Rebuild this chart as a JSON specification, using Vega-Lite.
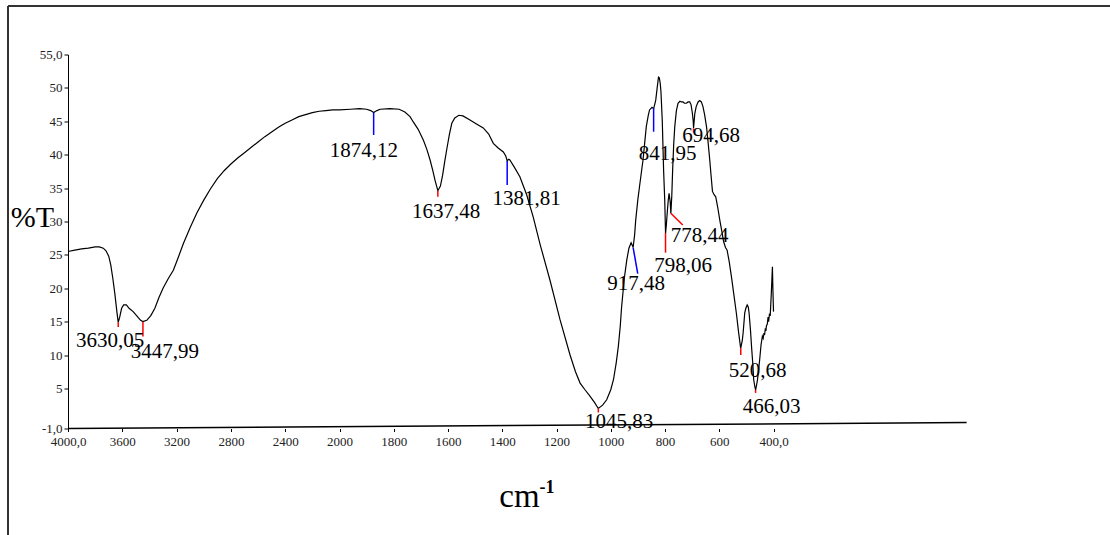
{
  "$schema": "https://vega.github.io/schema/vega-lite/v6.json",
  "width": 898,
  "height": 374,
  "autosize": {"type": "none"},
  "padding": {"left": 68, "top": 54.5, "right": 144, "bottom": 106.5},
  "background": "white",
  "config": {"view": {"stroke": null}, "font": "Liberation Serif"},
  "datasets": {
    "spectrum": [
      {"wn":4000,"t":25.5},{"wn":3950,"t":25.7},{"wn":3900,"t":25.9},{"wn":3850,"t":26.0},{"wn":3800,"t":26.2},{"wn":3770,"t":26.2},{"wn":3740,"t":26.0},{"wn":3720,"t":25.6},{"wn":3700,"t":24.8},{"wn":3685,"t":23.5},{"wn":3670,"t":21.5},{"wn":3655,"t":19.2},{"wn":3640,"t":16.5},{"wn":3630,"t":14.9},{"wn":3620,"t":15.6},{"wn":3605,"t":17.0},{"wn":3590,"t":17.5},{"wn":3570,"t":17.5},{"wn":3550,"t":17.0},{"wn":3520,"t":16.5},{"wn":3490,"t":15.8},{"wn":3465,"t":15.2},{"wn":3448,"t":15.0},{"wn":3420,"t":15.2},{"wn":3390,"t":15.9},{"wn":3360,"t":17.0},{"wn":3330,"t":18.6},{"wn":3300,"t":20.0},{"wn":3260,"t":21.5},{"wn":3224,"t":22.7},{"wn":3190,"t":24.5},{"wn":3150,"t":26.7},{"wn":3100,"t":29.1},{"wn":3050,"t":31.3},{"wn":3000,"t":33.2},{"wn":2950,"t":34.9},{"wn":2900,"t":36.4},{"wn":2850,"t":37.6},{"wn":2800,"t":38.6},{"wn":2750,"t":39.5},{"wn":2700,"t":40.3},{"wn":2650,"t":41.1},{"wn":2600,"t":41.9},{"wn":2550,"t":42.7},{"wn":2500,"t":43.4},{"wn":2450,"t":44.1},{"wn":2400,"t":44.7},{"wn":2350,"t":45.2},{"wn":2300,"t":45.7},{"wn":2250,"t":46.0},{"wn":2200,"t":46.3},{"wn":2150,"t":46.5},{"wn":2100,"t":46.6},{"wn":2050,"t":46.7},{"wn":2000,"t":46.7},{"wn":1960,"t":46.8},{"wn":1926,"t":46.9},{"wn":1900,"t":46.8},{"wn":1885,"t":46.6},{"wn":1874,"t":46.3},{"wn":1862,"t":46.6},{"wn":1850,"t":46.8},{"wn":1814,"t":46.9},{"wn":1780,"t":46.8},{"wn":1759,"t":46.4},{"wn":1740,"t":45.7},{"wn":1728,"t":44.9},{"wn":1710,"t":43.8},{"wn":1691,"t":42.2},{"wn":1678,"t":40.8},{"wn":1666,"t":39.2},{"wn":1656,"t":37.6},{"wn":1648,"t":36.2},{"wn":1637.5,"t":34.6},{"wn":1628,"t":35.3},{"wn":1620,"t":36.9},{"wn":1612,"t":39.0},{"wn":1605,"t":40.7},{"wn":1595,"t":43.0},{"wn":1586,"t":44.7},{"wn":1575,"t":45.5},{"wn":1560,"t":45.9},{"wn":1545,"t":45.8},{"wn":1519,"t":45.2},{"wn":1495,"t":44.6},{"wn":1470,"t":44.0},{"wn":1450,"t":43.1},{"wn":1433,"t":41.7},{"wn":1415,"t":41.0},{"wn":1396,"t":40.4},{"wn":1387,"t":39.8},{"wn":1382,"t":39.1},{"wn":1376,"t":39.3},{"wn":1372,"t":39.2},{"wn":1355,"t":38.1},{"wn":1335,"t":36.7},{"wn":1310,"t":34.0},{"wn":1286,"t":30.7},{"wn":1260,"t":26.5},{"wn":1224,"t":21.2},{"wn":1187,"t":15.3},{"wn":1150,"t":10.0},{"wn":1130,"t":7.5},{"wn":1113,"t":5.8},{"wn":1095,"t":4.8},{"wn":1076,"t":3.8},{"wn":1060,"t":2.9},{"wn":1046,"t":2.0},{"wn":1030,"t":2.5},{"wn":1015,"t":3.3},{"wn":1000,"t":4.8},{"wn":990,"t":6.3},{"wn":980,"t":8.8},{"wn":972,"t":11.3},{"wn":965,"t":14.3},{"wn":960,"t":17.2},{"wn":950,"t":21.5},{"wn":941,"t":24.2},{"wn":933,"t":26.0},{"wn":925,"t":26.8},{"wn":919,"t":26.3},{"wn":917.5,"t":26.1},{"wn":912,"t":28.0},{"wn":908,"t":30.2},{"wn":900,"t":33.3},{"wn":894,"t":35.2},{"wn":885,"t":38.0},{"wn":881,"t":39.2},{"wn":875,"t":41.7},{"wn":869,"t":44.2},{"wn":862,"t":45.8},{"wn":857,"t":46.7},{"wn":848,"t":47.1},{"wn":842,"t":46.9},{"wn":838,"t":47.5},{"wn":834,"t":48.2},{"wn":828,"t":50.3},{"wn":824,"t":51.6},{"wn":821,"t":51.5},{"wn":818,"t":50.8},{"wn":815,"t":49.5},{"wn":810,"t":45.0},{"wn":805,"t":37.5},{"wn":801,"t":33.2},{"wn":798,"t":28.2},{"wn":795,"t":29.5},{"wn":792,"t":31.2},{"wn":788,"t":33.2},{"wn":785,"t":34.2},{"wn":781,"t":33.0},{"wn":778.4,"t":31.2},{"wn":775,"t":33.8},{"wn":772,"t":37.5},{"wn":768,"t":41.5},{"wn":764,"t":44.2},{"wn":758,"t":46.6},{"wn":752,"t":47.7},{"wn":745,"t":48.0},{"wn":740,"t":47.9},{"wn":734,"t":47.9},{"wn":728,"t":47.7},{"wn":721,"t":47.7},{"wn":715,"t":47.9},{"wn":709,"t":47.9},{"wn":704,"t":47.5},{"wn":699,"t":46.2},{"wn":696,"t":45.0},{"wn":694.7,"t":44.0},{"wn":690,"t":46.2},{"wn":685,"t":47.2},{"wn":678,"t":47.9},{"wn":672,"t":48.1},{"wn":666,"t":47.9},{"wn":660,"t":47.2},{"wn":654,"t":46.0},{"wn":647,"t":44.2},{"wn":641,"t":41.8},{"wn":635,"t":39.2},{"wn":630,"t":36.8},{"wn":625,"t":34.5},{"wn":619,"t":34.0},{"wn":613,"t":33.7},{"wn":606,"t":32.2},{"wn":598,"t":30.2},{"wn":590,"t":28.4},{"wn":584,"t":27.0},{"wn":577,"t":26.1},{"wn":571,"t":25.7},{"wn":563,"t":23.9},{"wn":555,"t":21.7},{"wn":546,"t":19.0},{"wn":537,"t":16.3},{"wn":529,"t":13.5},{"wn":521,"t":11.0},{"wn":515,"t":12.2},{"wn":512,"t":13.3},{"wn":506,"t":16.3},{"wn":502,"t":17.0},{"wn":497,"t":17.5},{"wn":493,"t":17.2},{"wn":490,"t":16.3},{"wn":485,"t":13.8},{"wn":481,"t":11.3},{"wn":476,"t":8.5},{"wn":473,"t":6.3},{"wn":469,"t":5.3},{"wn":466,"t":4.8},{"wn":463,"t":5.4},{"wn":459,"t":6.3},{"wn":455,"t":7.8},{"wn":451,"t":9.3},{"wn":446,"t":11.5},{"wn":441,"t":12.8},{"wn":438,"t":12.5},{"wn":435,"t":13.3},{"wn":433,"t":13.0},{"wn":430,"t":14.0},{"wn":428,"t":13.6},{"wn":426,"t":14.4},{"wn":423,"t":14.6},{"wn":420,"t":15.7},{"wn":418,"t":15.0},{"wn":415,"t":16.1},{"wn":412,"t":16.0},{"wn":408,"t":19.3},{"wn":404,"t":23.2},{"wn":402,"t":19.5},{"wn":400,"t":16.5}
    ],
    "labels": [
      {"wn":3690.6,"t":11.2,"label":"3630,05"},
      {"wn":3285.5,"t":9.57,"label":"3447,99"},
      {"wn":1909.7,"t":39.7,"label":"1874,12"},
      {"wn":1607.3,"t":30.52,"label":"1637,48"},
      {"wn":1309.8,"t":32.47,"label":"1381,81"},
      {"wn":969.5,"t":-0.91,"label":"1045,83"},
      {"wn":906.8,"t":19.75,"label":"917,48"},
      {"wn":790.7,"t":39.21,"label":"841,95"},
      {"wn":630.3,"t":41.95,"label":"694,68"},
      {"wn":672.7,"t":26.93,"label":"778,44"},
      {"wn":733.5,"t":22.49,"label":"798,06"},
      {"wn":458.8,"t":6.77,"label":"520,68"},
      {"wn":406.5,"t":1.29,"label":"466,03"}
    ],
    "markers": [
      {"wn":3630.05,"wn2":3630.05,"t":14.9,"t2":14.2,"grp":"r"},
      {"wn":3447.99,"wn2":3447.99,"t":15.0,"t2":12.76,"grp":"r"},
      {"wn":1874.12,"wn2":1874.12,"t":46.3,"t2":42.95,"grp":"b"},
      {"wn":1637.48,"wn2":1637.48,"t":34.6,"t2":33.7,"grp":"r"},
      {"wn":1381.81,"wn2":1381.81,"t":39.06,"t2":35.46,"grp":"b"},
      {"wn":1045.83,"wn2":1045.83,"t":2.0,"t2":1.4,"grp":"r"},
      {"wn":917.48,"wn2":900.5,"t":26.1,"t2":22.2,"grp":"b"},
      {"wn":841.95,"wn2":841.95,"t":47.0,"t2":43.44,"grp":"b"},
      {"wn":798.06,"wn2":798.06,"t":28.28,"t2":25.33,"grp":"r"},
      {"wn":778.44,"wn2":734.6,"t":31.23,"t2":29.48,"grp":"r"},
      {"wn":694.68,"wn2":694.68,"t":43.95,"t2":43.3,"grp":"r"},
      {"wn":520.68,"wn2":520.68,"t":11.02,"t2":10.02,"grp":"r"},
      {"wn":466.03,"wn2":466.03,"t":4.78,"t2":4.33,"grp":"r"}
    ],
    "lines": [
      {"wn":4442,"wn2":-841,"t":62.26,"t2":62.26,"grp":"frame"},
      {"wn":4442,"wn2":4442,"t":62.26,"t2":-16.93,"grp":"frame"},
      {"wn":4000,"wn2":-312,"t":-1,"t2":-0.12,"grp":"axis"}
    ],
    "sup": [
      {"wn":1235,"t":-10.64,"label":"-1"}
    ]
  },
  "encoding": {
    "x": {
      "field": "wn",
      "type": "quantitative",
      "scale": {"domain": [4000, 2000, 400], "range": [0, 271.5, 705.5], "zero": false, "nice": false},
      "axis": {
        "values": [4000,3600,3200,2800,2400,2000,1800,1600,1400,1200,1000,800,600,400],
        "format": "d",
        "labelExpr": "datum.value == 4000 ? '4000,0' : datum.value == 400 ? '400,0' : datum.label",
        "domain": false,
        "grid": false,
        "tickSize": 3,
        "tickColor": "black",
        "labelFont": "Liberation Serif",
        "labelFontSize": 13,
        "labelColor": "#222",
        "labelPadding": 4,
        "labelFlush": false,
        "labelOverlap": false,
        "title": "cm",
        "titleFont": "Liberation Serif",
        "titleFontSize": 33,
        "titleFontWeight": "normal",
        "titleColor": "black",
        "titleX": 451,
        "titleY": 78,
        "titleAlign": "center",
        "titleBaseline": "alphabetic"
      }
    },
    "y": {
      "field": "t",
      "type": "quantitative",
      "scale": {"domain": [-1, 55], "zero": false, "nice": false},
      "axis": {
        "values": [-1,5,10,15,20,25,30,35,40,45,50,55],
        "labelExpr": "datum.value == -1 ? '-1,0' : datum.value == 55 ? '55,0' : datum.label",
        "grid": false,
        "domainColor": "black",
        "tickColor": "black",
        "tickSize": 4,
        "labelFont": "Liberation Serif",
        "labelFontSize": 13,
        "labelColor": "#222",
        "labelPadding": 2,
        "labelFlush": false,
        "labelOverlap": false,
        "title": "%T",
        "titleFont": "Liberation Serif",
        "titleFontSize": 30,
        "titleFontWeight": "normal",
        "titleColor": "black",
        "titleAngle": 0,
        "titleX": -36,
        "titleY": 163,
        "titleAlign": "center",
        "titleBaseline": "middle"
      }
    }
  },
  "layer": [
    {
      "data": {"name": "lines"},
      "transform": [{"filter": "datum.grp == 'frame'"}],
      "mark": {"type": "rule", "color": "#333", "strokeWidth": 2},
      "encoding": {"x2": {"field": "wn2"}, "y2": {"field": "t2"}}
    },
    {
      "data": {"name": "lines"},
      "transform": [{"filter": "datum.grp == 'axis'"}],
      "mark": {"type": "rule", "color": "black", "strokeWidth": 1.5},
      "encoding": {"x2": {"field": "wn2"}, "y2": {"field": "t2"}}
    },
    {
      "data": {"name": "spectrum"},
      "mark": {"type": "line", "color": "black", "strokeWidth": 1.2},
      "encoding": {}
    },
    {
      "data": {"name": "markers"},
      "mark": {"type": "rule", "strokeWidth": 1.5},
      "encoding": {
        "x2": {"field": "wn2"},
        "y2": {"field": "t2"},
        "color": {"field": "grp", "type": "nominal", "scale": {"domain": ["r", "b"], "range": ["#ff0000", "#0000ff"]}, "legend": null}
      }
    },
    {
      "data": {"name": "labels"},
      "mark": {"type": "text", "font": "Liberation Serif", "fontSize": 21, "align": "center", "baseline": "alphabetic", "color": "black"},
      "encoding": {"text": {"field": "label"}}
    },
    {
      "data": {"name": "sup"},
      "mark": {"type": "text", "font": "Liberation Serif", "fontSize": 18, "fontWeight": "bold", "align": "center", "baseline": "alphabetic", "color": "black"},
      "encoding": {"text": {"field": "label"}}
    }
  ]
}
